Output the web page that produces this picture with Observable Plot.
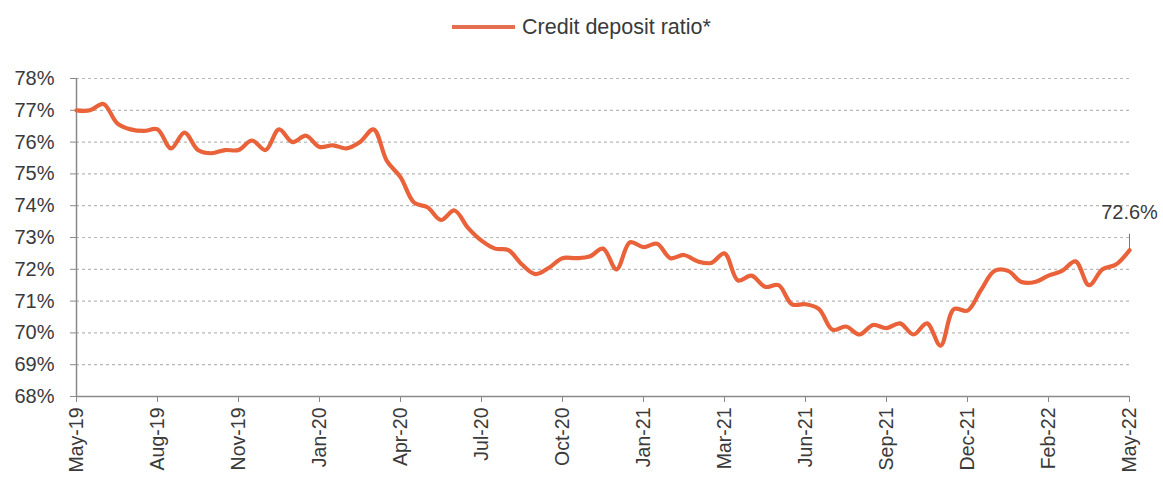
<!DOCTYPE html>
<html>
<head>
<meta charset="utf-8">
<script src="https://cdn.jsdelivr.net/npm/d3@7"></script>
<script src="https://cdn.jsdelivr.net/npm/@observablehq/plot@0.6"></script>
<style>
  html, body { margin: 0; padding: 0; background: #fff; }
  body { width: 1163px; height: 485px; overflow: hidden; font-family: "Liberation Sans", Arial, sans-serif; }
  #legend { height: 50px; display: flex; align-items: center; justify-content: center; padding-top: 4px; box-sizing: border-box; }
  #legend .sw { width: 63px; height: 4px; background: #E4704F; margin-right: 7px; }
  #legend .lb { font-size: 21.5px; color: #3a3a3a; }
</style>
</head>
<body>
<div id="legend"><span class="sw"></span><span class="lb">Credit deposit ratio*</span></div>
<div id="chart"></div>
<script>
// Fortnightly credit-deposit ratio (%), May-19 .. May-22
const ratio = [
  77.0, 77.0, 77.2, 76.6, 76.4, 76.35, 76.4, 75.8, 76.3, 75.75,
  75.65, 75.75, 75.75, 76.05, 75.75, 76.4, 76.0, 76.2, 75.85, 75.9,
  75.8, 76.0, 76.4, 75.4, 74.9, 74.1, 73.95, 73.55, 73.85, 73.3,
  72.9, 72.65, 72.6, 72.15, 71.85, 72.05, 72.35, 72.35, 72.4, 72.65,
  72.0, 72.85, 72.7, 72.8, 72.35, 72.45, 72.25, 72.2, 72.5, 71.65,
  71.8, 71.45, 71.5, 70.9, 70.9, 70.75, 70.1, 70.2, 69.95, 70.25,
  70.15, 70.3, 69.95, 70.3, 69.6, 70.75, 70.7, 71.35, 71.95, 71.95,
  71.6, 71.6, 71.8, 71.95, 72.25, 71.5, 72.0, 72.15, 72.6
];
const tickLabels = ["May-19","Aug-19","Nov-19","Jan-20","Apr-20","Jul-20","Oct-20",
  "Jan-21","Mar-21","Jun-21","Sep-21","Dec-21","Feb-22","May-22"];
const tickStep = 6;
const yTicks = [68, 69, 70, 71, 72, 73, 74, 75, 76, 77, 78];
const lastLabel = "72.6%";

const data = ratio.map((v, i) => ({i, v}));
const last = [data[data.length - 1]];
const xTicks = tickLabels.map((_, k) => k * tickStep);

const chart = Plot.plot({
  width: 1163,
  height: 435,
  marginLeft: 76,
  marginRight: 34,
  marginTop: 28,
  marginBottom: 89,
  style: {fontFamily: "'Liberation Sans', Arial, sans-serif", color: "#3a3a3a", background: "#fff"},
  x: {domain: [0, ratio.length - 1], ticks: xTicks, tickFormat: i => tickLabels[Math.round(i / tickStep)], label: null},
  y: {domain: [68, 78], ticks: yTicks, tickFormat: d => d + "%", label: null},
  marks: [
    Plot.gridY(yTicks.slice(1), {stroke: "#b8b8b8", strokeOpacity: 1, strokeDasharray: "3,3", strokeWidth: 1.2}),
    Plot.ruleX([0], {stroke: "#8a8a8a", strokeWidth: 1.5}),
    Plot.ruleY([68], {stroke: "#8a8a8a", strokeWidth: 1.5}),
    Plot.axisY({ticks: yTicks, tickFormat: d => d + "%", tickSize: 6, tickPadding: 16, fontSize: 20, stroke: "#8a8a8a", label: null}),
    Plot.axisX({ticks: xTicks, tickFormat: i => tickLabels[Math.round(i / tickStep)], tickSize: 6, tickPadding: 5, tickRotate: -90, fontSize: 19.5, stroke: "#8a8a8a", label: null}),
    Plot.line(data, {x: "i", y: "v", stroke: "#E9623A", strokeWidth: 4.2, curve: "catmull-rom"}),
    Plot.ruleX(last, {x: "i", y1: "v", y2: d => d.v + 0.5, stroke: "#777", strokeWidth: 1}),
    Plot.text(last, {x: "i", y: "v", text: () => lastLabel, dy: -38, fontSize: 20, fill: "#3a3a3a"})
  ]
});
document.getElementById("chart").appendChild(chart);
</script>
</body>
</html>
